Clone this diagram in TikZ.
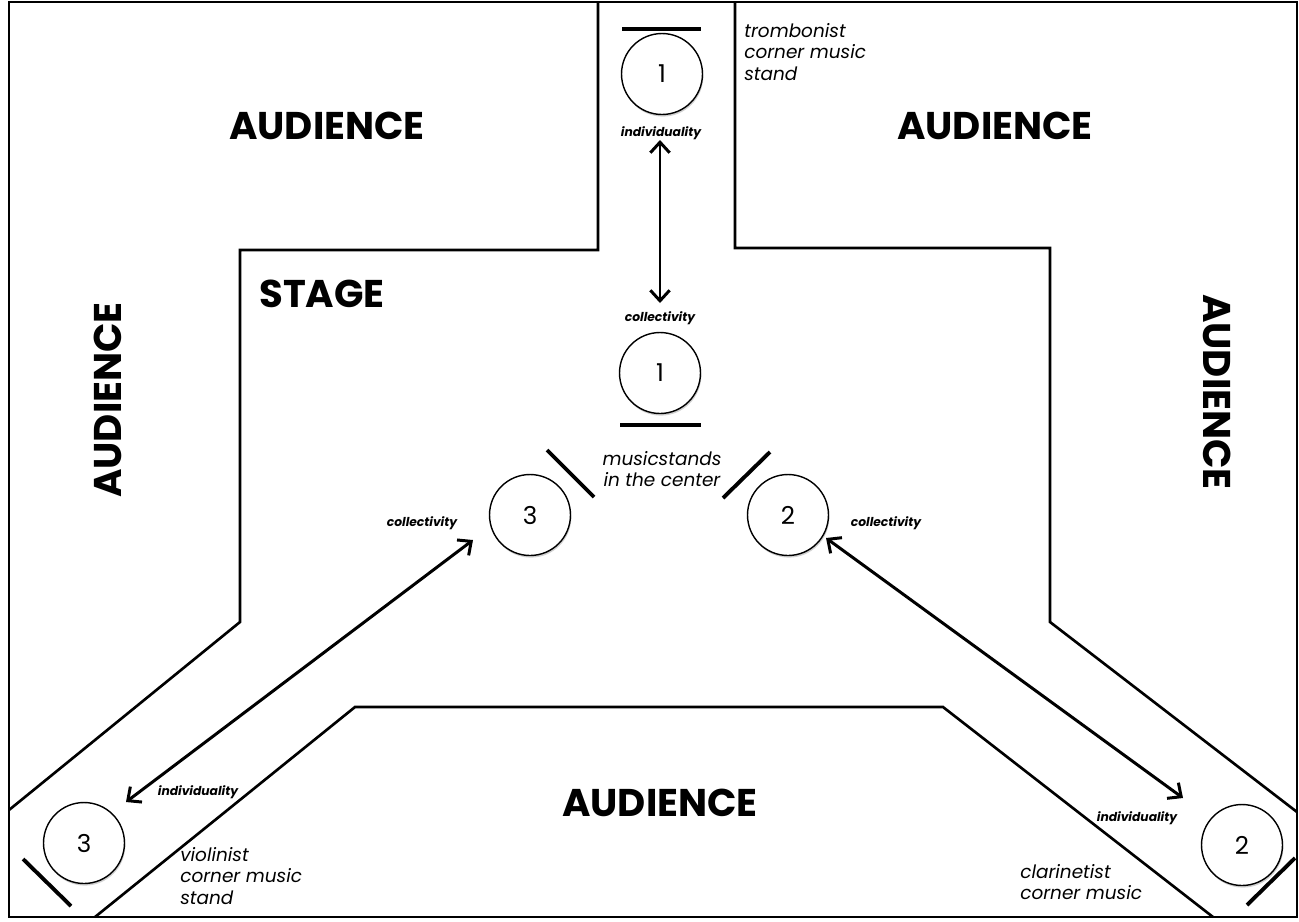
\documentclass[tikz,border=0pt]{standalone}
\usepackage{fontspec}
\setmainfont{Poppins}
\usetikzlibrary{arrows.meta,shadows}
\begin{document}
\begin{tikzpicture}[x=0.02cm,y=-0.02cm,
  wall/.style={line width=1.5pt, line join=miter},
  player/.style={circle, draw, line width=0.8pt, minimum size=1.62cm, inner sep=0pt, fill=white,
    font=\fontsize{14}{16}\selectfont,
    drop shadow={shadow xshift=0.5pt, shadow yshift=-1.2pt, opacity=0.3, fill=black!60}},
  standbar/.style={line width=2.2pt},
  big/.style={font=\bfseries\fontsize{22}{26}\selectfont, inner sep=0pt},
  tag/.style={font=\bfseries\itshape\fontsize{7}{8}\selectfont, inner sep=0pt},
  note/.style={font=\itshape\fontsize{10.5}{12.3}\selectfont, inner sep=0pt},
  link/.style={line width=1.7pt, {Straight Barb[length=6pt,width=11pt]}-{Straight Barb[length=6pt,width=11pt]}}
]
\useasboundingbox (0,0) rectangle (1299,921);
\draw[line width=0.8pt] (9,2) rectangle (1297,917);

% stage walls
\draw[wall] (598,2) -- (598,250) -- (240,250) -- (240,622) -- (9,810);
\draw[wall] (735,2) -- (735,248) -- (1050,248) -- (1050,622) -- (1297,812);
\draw[wall] (95,917) -- (355,707) -- (943,707) -- (1213,917);

% audience labels
\node[big] (audTL) at (327,126) {AUDIENCE};
\node[big] (audTR) at (995,126) {AUDIENCE};
\node[big] (audB) at (660,803) {AUDIENCE};
\node[big, rotate=90] (audL) at (108,400) {AUDIENCE};
\node[big, rotate=-90] (audR) at (1217,392) {AUDIENCE};
\node[big] (stage) at (322,294) {STAGE};

% players
\node[player] (t1) at (662,74) {1};
\node[player] (c1) at (660,373) {1};
\node[player] (c3) at (530,515) {3};
\node[player] (c2) at (788,515) {2};
\node[player] (b3) at (84,843) {3};
\node[player] (b2) at (1242,845) {2};

% music stands
\coordinate (s1a) at (622,29); \coordinate (s1b) at (701,29);
\draw[standbar] (s1a) -- (s1b);
\coordinate (s2a) at (620,425); \coordinate (s2b) at (701,425);
\draw[standbar] (s2a) -- (s2b);
\coordinate (s3a) at (547,450); \coordinate (s3b) at (594,497);
\draw[standbar] (s3a) -- (s3b);
\coordinate (s4a) at (723,498); \coordinate (s4b) at (770,452);
\draw[standbar] (s4a) -- (s4b);
\coordinate (s5a) at (23,859); \coordinate (s5b) at (71,906);
\draw[standbar] (s5a) -- (s5b);
\coordinate (s6a) at (1247,905); \coordinate (s6b) at (1295,858);
\draw[standbar] (s6a) -- (s6b);

% tags
\node[tag] (indT) at (661,133) {individuality};
\node[tag] (colC) at (660,318) {collectivity};
\node[tag] (col3) at (422,523) {collectivity};
\node[tag] (col2) at (886,523) {collectivity};
\node[tag] (ind3) at (198,792) {individuality};
\node[tag] (ind2) at (1137,818) {individuality};

% arrows
\coordinate (a1top) at (660,140);
\coordinate (a1bot) at (660,303);
\draw[link] (a1top) -- (a1bot);
\coordinate (a3in) at (473,540);
\coordinate (a3out) at (126,802);
\draw[link] (a3in) -- (a3out);
\coordinate (a2in) at (826,538);
\coordinate (a2out) at (1183,798);
\draw[link] (a2in) -- (a2out);

% notes
\node[note, anchor=west, align=left] (nT) at (744,52) {trombonist\\corner music\\stand};
\node[note, align=center] (nC) at (662,469) {musicstands\\in the center};
\node[note, anchor=west, align=left] (nL) at (180,876) {violinist\\corner music\\stand};
\node[note, anchor=west, align=left] (nR) at (1020,882) {clarinetist\\corner music};
\end{tikzpicture}
\end{document}
